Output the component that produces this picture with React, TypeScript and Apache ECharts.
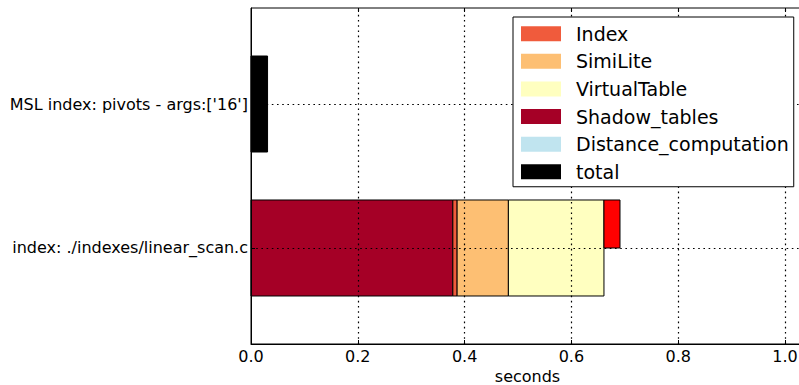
import React, { useEffect, useRef } from "react";
import * as echarts from "echarts";

// Category labels (y positions 0 and 1)
const categories = ["index: ./indexes/linear_scan.c", "MSL index: pivots - args:['16']"];
// Stacked components per category (seconds)
const shadowTables = [0.378, 0];
const indexTime = [0.008, 0];
const simiLite = [0.096, 0];
const virtualTable = [0.179, 0];
const distanceComputation = [0, 0];
const total = [0, 0.031];
const other = [0.03, 0];
const xTicks = [0, 0.2, 0.4, 0.6, 0.8, 1.0];
const yTicks = [0, 1];

const FONT = "DejaVu Sans";

export default function App() {
  const ref = useRef<HTMLDivElement>(null);
  useEffect(() => {
    document.body.style.margin = "0";
    document.body.style.overflow = "hidden";
    const chart = echarts.init(ref.current!, null, { renderer: "svg" });

    const stackDefs = [
      { name: "Shadow_tables", values: shadowTables, color: "#A50026" },
      { name: "Index", values: indexTime, color: "#F05B3C" },
      { name: "SimiLite", values: simiLite, color: "#FDBF73" },
      { name: "VirtualTable", values: virtualTable, color: "#FFFFC0" },
      { name: "Distance_computation", values: distanceComputation, color: "#C0E4EF" },
    ];
    const cum = categories.map(() => 0);
    const barH = 0.6667;
    const series: any[] = [];
    const renderItem = (color: string) => (params: any, api: any) => {
      const x0 = api.value(0);
      const x1 = api.value(1);
      const yc = api.value(2);
      const h = api.value(3);
      const off = api.value(4);
      const p0 = api.coord([x0, yc + off + h / 2]);
      const p1 = api.coord([x1, yc + off - h / 2]);
      return {
        type: "rect",
        shape: { x: p0[0], y: p0[1], width: p1[0] - p0[0], height: p1[1] - p0[1] },
        style: { fill: color, stroke: "#000", lineWidth: 1 },
      };
    };
    stackDefs.forEach((d) => {
      const data: number[][] = [];
      d.values.forEach((v, i) => {
        if (v > 0) {
          data.push([cum[i], cum[i] + v, i, barH, 0]);
          cum[i] += v;
        }
      });
      series.push({
        type: "custom",
        name: d.name,
        z: 2,
        itemStyle: { color: d.color },
        renderItem: renderItem(d.color),
        data,
        encode: { x: [0, 1], y: 2 },
      });
    });
    // red extra bar (upper half) after stack
    const otherData: number[][] = [];
    other.forEach((v, i) => {
      if (v > 0) otherData.push([cum[i], cum[i] + v, i, barH / 2, barH / 4]);
    });
    series.push({
      type: "custom",
      name: "other",
      z: 2,
      itemStyle: { color: "#FF0000" },
      renderItem: renderItem("#FF0000"),
      data: otherData,
      encode: { x: [0, 1], y: 2 },
    });
    const totalData: number[][] = [];
    total.forEach((v, i) => {
      if (v > 0) totalData.push([0, v, i, barH, 0]);
    });
    series.push({
      type: "custom",
      name: "total",
      z: 2,
      itemStyle: { color: "#000000" },
      renderItem: renderItem("#000000"),
      data: totalData,
      encode: { x: [0, 1], y: 2 },
    });

    // Grid lines drawn above the bars (as in the reference), via markLine
    const gridLineStyle = { color: "#000", width: 1.2, type: [1.6, 3.6] as any };
    series.push({
      type: "line",
      name: "grid",
      data: [],
      z: 5,
      silent: true,
      markLine: {
        silent: true,
        z: 5,
        symbol: ["none", "none"],
        label: { show: false },
        lineStyle: gridLineStyle,
        emphasis: { disabled: true },
        data: [
          ...xTicks.filter((v) => v > 0).map((v) => ({ xAxis: v })),
          ...yTicks.map((v) => ({ yAxis: v })),
        ],
      },
    });

    const xMax = 1.0356;

    chart.setOption({
      animation: false,
      textStyle: { fontFamily: FONT },
      grid: {
        left: 251,
        top: 8,
        right: -5,
        bottom: 41,
        outerBoundsMode: "none",
        containLabel: false,
        show: true,
        z: 6,
        borderColor: "#000",
        borderWidth: 1,
        backgroundColor: "transparent",
      },
      legend: {
        data: ["Index", "SimiLite", "VirtualTable", "Shadow_tables", "Distance_computation", "total"],
        orient: "vertical",
        left: 513,
        top: 17,
        itemWidth: 40,
        itemHeight: 15,
        itemGap: 8.6,
        icon: "rect",
        selectedMode: false,
        backgroundColor: "#fff",
        borderColor: "#000",
        borderWidth: 1,
        borderRadius: 0,
        padding: [7.25, 5, 5.5, 8],
        z: 20,
        itemStyle: { borderWidth: 0 },
        textStyle: {
          fontFamily: FONT,
          fontSize: 19,
          color: "#000",
          padding: [0, 0, 0, 10],
        },
      },
      xAxis: [
        {
          type: "value",
          min: 0,
          max: xMax,
          z: 6,
          name: "seconds",
          nameLocation: "middle",
          nameGap: 23,
          nameTextStyle: { fontFamily: FONT, fontSize: 16, color: "#000" },
          axisLine: { show: true, onZero: false, lineStyle: { color: "#000", width: 1 } },
          axisTick: { show: true, inside: true, length: 4, customValues: xTicks, lineStyle: { color: "#000" } },
          axisLabel: {
            customValues: xTicks,
            formatter: (v: number) => v.toFixed(1),
            fontFamily: FONT,
            fontSize: 16,
            color: "#000",
            margin: 4,
          },
          splitLine: { show: false },
        },
        {
          type: "value",
          min: 0,
          max: xMax,
          position: "top",
          z: 6,
          axisLine: { show: false, onZero: false },
          axisTick: { show: true, inside: true, length: 4, customValues: xTicks, lineStyle: { color: "#000" } },
          axisLabel: { show: false },
          splitLine: { show: false },
        },
      ],
      yAxis: {
        type: "value",
        min: -0.6667,
        max: 1.6667,
        z: 6,
        axisLine: { show: true, onZero: false, lineStyle: { color: "#000", width: 1 } },
        axisTick: { show: true, inside: true, length: 4, customValues: yTicks, lineStyle: { color: "#000" } },
        axisLabel: {
          customValues: yTicks,
          formatter: (v: number) => categories[Math.round(v)],
          fontFamily: FONT,
          fontSize: 16,
          color: "#000",
          margin: 3,
        },
        splitLine: { show: false },
      },
      series,
    });
    return () => chart.dispose();
  }, []);
  return (
    <div
      ref={ref}
      style={{ position: "fixed", left: 0, top: 0, width: 799, height: 385, background: "#fff" }}
    />
  );
}
